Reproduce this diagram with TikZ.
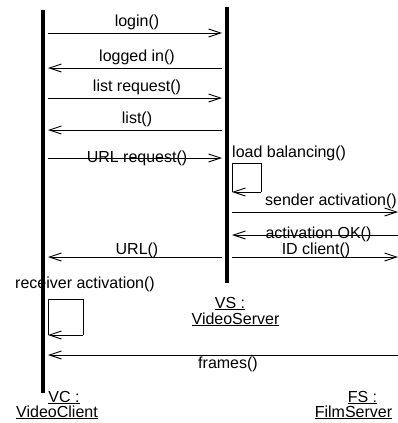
\documentclass[tikz,border=0pt]{standalone}
\usepackage{fontspec}
\setmainfont{Liberation Sans}
\usetikzlibrary{arrows.meta}
\begin{document}
\begin{tikzpicture}[x=1pt,y=-1pt,
  font=\fontsize{16}{18}\selectfont,
  lifeline/.style={line width=4pt},
  msg/.style={line width=0.9pt,-{Straight Barb[length=12pt,width=8pt,line width=0.9pt]}},
  selfbox/.style={line width=0.9pt},
  lbl/.style={anchor=base,inner sep=0pt},
  lblw/.style={anchor=base west,inner sep=0pt}]
\useasboundingbox (0,0) rectangle (398,423);

% lifelines
\coordinate (vctop) at (43,10);
\coordinate (vcbot) at (43,393);
\coordinate (vstop) at (227,7);
\coordinate (vsbot) at (227,283);
\draw[lifeline] (vctop) -- (vcbot);
\draw[lifeline] (vstop) -- (vsbot);

% message end points
\foreach \n/\y in {1/33,2/68,3/98,4/130,5/158,9/257} {
  \coordinate (vcR\n) at (48,\y);
  \coordinate (vsL\n) at (222,\y);
}
\foreach \n/\y in {6/212,7/235,8/257} {
  \coordinate (vsR\n) at (232,\y);
  \coordinate (fs\n) at (398,\y);
}
\coordinate (fs10) at (398,355);
\coordinate (vcR10) at (48,355);

% VC <-> VS
\draw[msg] (vcR1) -- (vsL1);
\node[lbl] (m1) at (137,26) {login()};
\draw[msg] (vsL2) -- (vcR2);
\node[lbl] (m2) at (137,61.5) {logged in()};
\draw[msg] (vcR3) -- (vsL3);
\node[lbl] (m3) at (137,91) {list request()};
\draw[msg] (vsL4) -- (vcR4);
\node[lbl] (m4) at (137,123) {list()};
\draw[msg] (vcR5) -- (vsL5);
\node[lbl] (m5) at (137,162) {URL request()};
\draw[msg] (vsL9) -- (vcR9);
\node[lbl] (m9) at (137,254) {URL()};

% VS self call
\node[lblw] (lb) at (232,157) {load balancing()};
\coordinate (lbA) at (232,163);
\coordinate (lbB) at (261,163);
\coordinate (lbC) at (261,192);
\coordinate (lbD) at (232,192);
\draw[selfbox] (lbD) -- (lbA) -- (lbB) -- (lbC);
\draw[msg] (lbC) -- (lbD);

% VS <-> FS
\draw[msg] (vsR6) -- (fs6);
\node[lbl] (m6) at (331,205) {sender activation()};
\draw[msg] (fs7) -- (vsR7);
\node[lbl] (m7) at (318.5,238.5) {activation OK()};
\draw[msg] (vsR8) -- (fs8);
\node[lbl] (m8) at (316,254) {ID client()};

% VC self call
\node[lblw] (ra) at (15,288) {receiver activation()};
\coordinate (raA) at (48,299);
\coordinate (raB) at (83,299);
\coordinate (raC) at (83,335);
\coordinate (raD) at (48,335);
\draw[selfbox] (raD) -- (raA) -- (raB) -- (raC);
\draw[msg] (raC) -- (raD);

% FS -> VC
\draw[msg] (fs10) -- (vcR10);
\node[lbl] (m10) at (228,368) {frames()};

% object names
\node[lbl] (vs1) at (230,308) {\underline{VS :}};
\node[lbl] (vs2) at (235.5,324) {\underline{VideoServer}};
\node[lbl] (vc1) at (64,402) {\underline{VC :}};
\node[lbl] (vc2) at (57,417) {\underline{VideoClient}};
\node[lbl] (fsn1) at (362.5,402) {\underline{FS :}};
\node[lbl] (fsn2) at (353.5,417) {\underline{FilmServer}};
\end{tikzpicture}
\end{document}
